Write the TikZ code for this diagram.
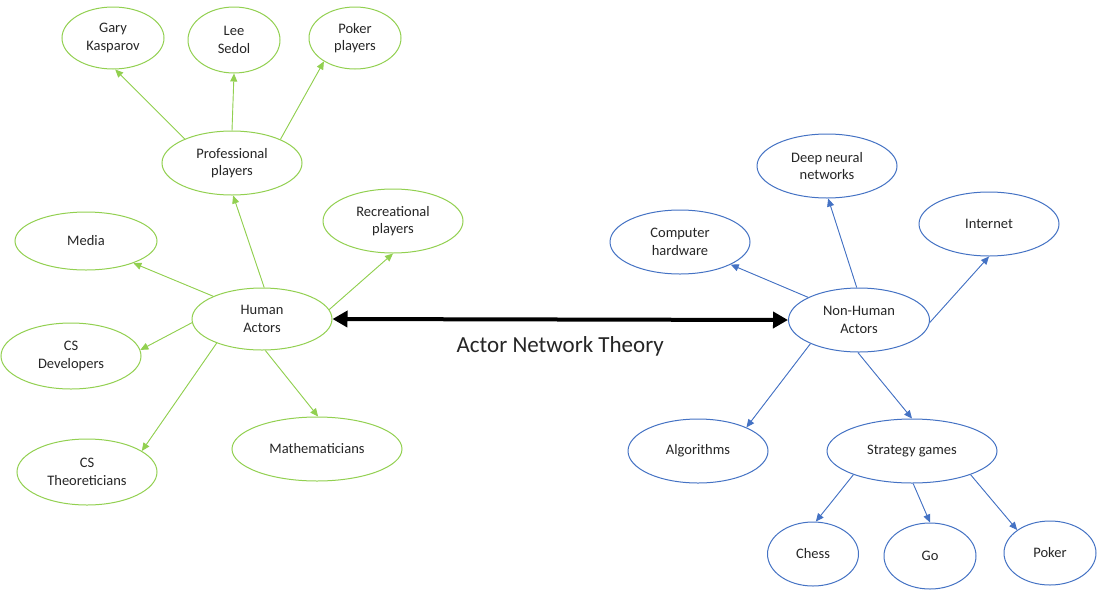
\documentclass[tikz,border=0pt]{standalone}
\usepackage{fontspec}
\setmainfont{Carlito}
\usetikzlibrary{shapes.geometric,arrows.meta}
\definecolor{hgreen}{RGB}{146,208,80}
\definecolor{nblue}{RGB}{68,114,196}
\tikzset{
  actor/.style={ellipse, draw, line width=1pt, inner sep=0pt, align=center,
    font=\fontsize{14.5}{17.5}\selectfont, text=black!85},
  hum/.style={actor, draw=hgreen},
  non/.style={actor, draw=nblue},
  link/.style={line width=0.9pt, -{Triangle[length=8pt,width=7pt]}},
  hlink/.style={link, draw=hgreen, fill=hgreen},
  nlink/.style={link, draw=nblue, fill=nblue},
}
\begin{document}
\begin{tikzpicture}[x=1pt,y=1pt]
\useasboundingbox (0,0) rectangle (1097,-592);
\fill[white] (0,0) rectangle (1097,-592);

% human side
\node[hum, minimum width=102, minimum height=62] (gary) at (113,-38) {Gary\\Kasparov};
\node[hum, minimum width=92, minimum height=66] (lee) at (234,-40) {Lee\\Sedol};
\node[hum, minimum width=92, minimum height=62] (pokp) at (355,-38) {Poker\\players};
\node[hum, minimum width=140, minimum height=64] (prof) at (232,-163) {Professional\\players};
\node[hum, minimum width=142, minimum height=58] (media) at (86,-241) {Media};
\node[hum, minimum width=140, minimum height=64] (recr) at (393,-221) {Recreational\\players};
\node[hum, minimum width=140, minimum height=62] (human) at (262,-319) {Human\\Actors};
\node[hum, minimum width=140, minimum height=66] (csdev) at (71,-356) {CS\\Developers};
\node[hum, minimum width=140, minimum height=66] (csth) at (87,-472) {CS\\Theoreticians};
\node[hum, minimum width=170, minimum height=64] (math) at (317,-449) {Mathematicians};

% non-human side
\node[non, minimum width=140, minimum height=64] (dnn) at (827,-166) {Deep neural\\networks};
\node[non, minimum width=140, minimum height=64] (hw) at (680,-242) {Computer\\hardware};
\node[non, minimum width=140, minimum height=64] (net) at (989,-224) {Internet};
\node[non, minimum width=141, minimum height=64] (nonh) at (859,-320) {Non-Human\\Actors};
\node[non, minimum width=140, minimum height=64] (algo) at (698,-451) {Algorithms};
\node[non, minimum width=170, minimum height=64] (strat) at (912,-451) {Strategy games};
\node[non, minimum width=91, minimum height=64] (chess) at (813,-554) {Chess};
\node[non, minimum width=92, minimum height=66] (go) at (930,-556) {Go};
\node[non, minimum width=92, minimum height=64] (poker) at (1050,-553) {Poker};

% human connectors
\draw[hlink] (prof.153) -- (gary.-86);
\draw[hlink] (prof.90) -- (lee.-90);
\draw[hlink] (prof.26) -- (pokp.-143);
\draw[hlink] (human.86) -- (prof.-88);
\draw[hlink] (human.155) -- (media.-25);
\draw[hlink] (human.8) -- (recr.-90);
\draw[hlink] (human.183) -- (csdev.5);
\draw[hlink] (human.208) -- (csth.21);
\draw[hlink] (human.-84) -- (math.88);

% non-human connectors
\draw[nlink] (nonh.156) -- (hw.-24);
\draw[nlink] (nonh.94) -- (dnn.-88);
\draw[nlink] (nonh.-2) -- (net.-90);
\draw[nlink] (nonh.206) -- (algo.26);
\draw[nlink] (nonh.-92) -- (strat.90);
\draw[nlink] (strat.202) -- (chess.85);
\draw[nlink] (strat.-88) -- (go.90);
\draw[nlink] (strat.-22) -- (poker.145);

% the network link between both groups
\draw[line width=4pt, {Triangle[length=15pt,width=16pt]}-{Triangle[length=15pt,width=16pt]}]
  (human.east) -- node[below=12pt, font=\fontsize{23}{27}\selectfont, text=black!85] (ant) {Actor Network Theory} (nonh.west);
\end{tikzpicture}
\end{document}
